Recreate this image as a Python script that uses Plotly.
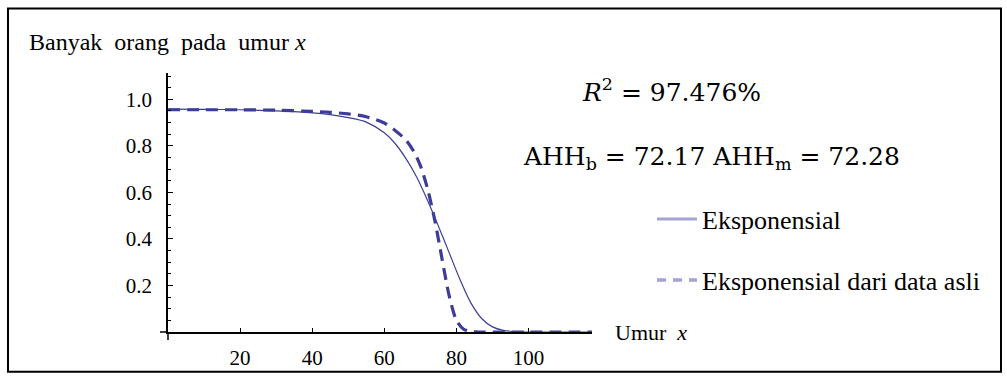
import plotly.graph_objects as go

# ---- data ----
age_fit = [0, 10, 20, 30, 40, 45, 50, 55, 60, 63, 66, 69, 72, 75, 78, 81, 84, 87, 90, 93, 96, 100, 110, 117.6]
surv_fit = [0.958, 0.957, 0.955, 0.950, 0.942, 0.934, 0.921, 0.902, 0.856, 0.810, 0.745, 0.665, 0.565,
            0.455, 0.340, 0.225, 0.125, 0.058, 0.022, 0.007, 0.002, 0.0, 0.0, 0.0]

age_data = [0, 10, 20, 30, 40, 45, 50, 55, 60, 63, 66, 68, 70, 72, 74, 76, 78, 80, 82, 84, 86, 100, 117.6]
surv_data = [0.955, 0.955, 0.955, 0.953, 0.948, 0.944, 0.937, 0.925, 0.898, 0.866, 0.825, 0.780, 0.715,
             0.615, 0.480, 0.315, 0.155, 0.050, 0.012, 0.002, 0.0, 0.0, 0.0]

x_ticks = [20, 40, 60, 80, 100]
y_ticks = [0.2, 0.4, 0.6, 0.8, 1.0]

name_fit = "Eksponensial"
name_data = "Eksponensial dari data asli"
y_label = "Banyak\u00a0 orang\u00a0 pada\u00a0 umur <i>x</i>"
x_label = "Umur\u00a0 <i>x</i>"
r2_text = "<i>R</i><sup>2</sup> = 97.476%"
ahh_text = "AHH<sub>b</sub> = 72.17 AHH<sub>m</sub> = 72.28"

# ---- layout geometry ----
FW, FH = 1007, 382
L, R, T, B = 168, 415, 73, 48
W = FW - L - R
H = FH - T - B

def px(xp):
    return (xp - L) / W

def py(yp):
    return (FH - B - yp) / H

CURVE = "#3d3d99"
LEG = "#a4a4d4"
SERIF = "Liberation Serif"
MATH = "DejaVu Serif"

fig = go.Figure()

fig.add_trace(go.Scatter(x=age_fit, y=surv_fit, mode="lines",
                         line=dict(color=CURVE, width=1.2, shape="spline", smoothing=0.8),
                         showlegend=False, name=name_fit))
fig.add_trace(go.Scatter(x=age_data, y=surv_data, mode="lines",
                         line=dict(color=CURVE, width=3.2, dash="12px,7px", shape="spline", smoothing=0.8),
                         showlegend=False, name=name_data))
# legend entries
fig.add_trace(go.Scatter(x=[None], y=[None], mode="lines", line=dict(color=LEG, width=3),
                         name=name_fit, legend="legend"))
fig.add_trace(go.Scatter(x=[None], y=[None], mode="lines", line=dict(color=LEG, width=3.5, dash="9px,7px"),
                         name=name_data, legend="legend2"))

axis_common = dict(showgrid=False, zeroline=False, showline=True, linecolor="black", linewidth=1.5,
                   ticks="inside", tickcolor="black", tickwidth=1.3,
                   tickfont=dict(family=SERIF, size=21, color="black"))

fig.update_xaxes(range=[0, 117.6], tickvals=x_ticks, ticklen=4, ticklabelstandoff=6, **axis_common)
fig.update_yaxes(range=[0, 1.113], tickvals=y_ticks, tickformat=".1f", ticklen=5, ticklabelstandoff=10,
                 minor=dict(dtick=0.05, ticks="inside", ticklen=3, tickcolor="black", tickwidth=1.1),
                 **axis_common)

shapes = [
    # outer frame
    dict(type="rect", xref="paper", yref="paper", x0=px(8), x1=px(1001), y0=py(8), y1=py(374),
         line=dict(color="black", width=2), fillcolor="rgba(0,0,0,0)", layer="below"),
    # axis stubs past the origin
    dict(type="line", xref="paper", yref="paper", x0=px(160), x1=0, y0=0, y1=0,
         line=dict(color="black", width=1.5)),
    dict(type="line", xref="paper", yref="paper", x0=0, x1=0, y0=py(342), y1=0,
         line=dict(color="black", width=1.5)),
]

annotations = [
    dict(text=y_label, xref="paper", yref="paper", x=px(27), y=py(42), xanchor="left", yanchor="middle",
         showarrow=False, font=dict(family=SERIF, size=24, color="black")),
    dict(text=x_label, xref="paper", yref="paper", x=px(613), y=py(335), xanchor="left", yanchor="middle",
         showarrow=False, font=dict(family=SERIF, size=22, color="black")),
    dict(text=r2_text, xref="paper", yref="paper", x=px(671), y=py(91), xanchor="center", yanchor="middle",
         showarrow=False, font=dict(family=MATH, size=25, color="black")),
    dict(text=ahh_text, xref="paper", yref="paper", x=px(711), y=py(159), xanchor="center", yanchor="middle",
         showarrow=False, font=dict(family=MATH, size=25, color="black")),
]

leg_common = dict(xref="container", yref="container", xanchor="left", yanchor="middle",
                  bgcolor="rgba(0,0,0,0)", borderwidth=0,
                  font=dict(family=SERIF, size=26, color="black"), itemwidth=40)

fig.update_layout(
    width=FW, height=FH,
    margin=dict(l=L, r=R, t=T, b=B, pad=0),
    paper_bgcolor="white", plot_bgcolor="white",
    shapes=shapes, annotations=annotations,
    showlegend=True,
    legend=dict(x=652 / FW, y=1 - 219 / FH, **leg_common),
    legend2=dict(x=652 / FW, y=1 - 280 / FH, **leg_common),
)

fig.write_html("out.html")
